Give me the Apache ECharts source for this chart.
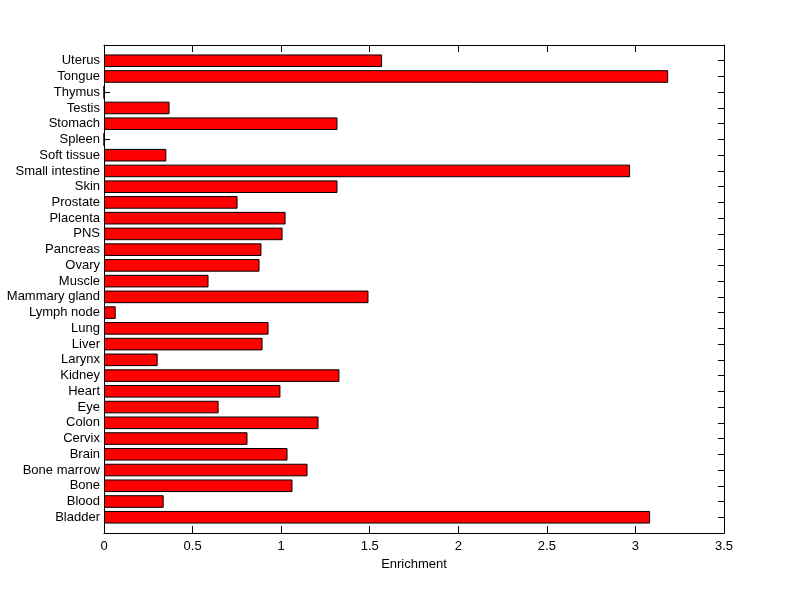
<!DOCTYPE html>
<html>
<head>
<meta charset="utf-8">
<script src="https://cdn.jsdelivr.net/npm/echarts@6/dist/echarts.min.js"></script>
<style>html,body{margin:0;padding:0;background:#fff;}#c{width:800px;height:599px;}</style>
</head>
<body>
<div id="c"></div>
<script>
// categories from bottom to top
var categories = ['Bladder','Blood','Bone','Bone marrow','Brain','Cervix','Colon','Eye','Heart','Kidney','Larynx','Liver','Lung','Lymph node','Mammary gland','Muscle','Ovary','Pancreas','PNS','Placenta','Prostate','Skin','Small intestine','Soft tissue','Spleen','Stomach','Testis','Thymus','Tongue','Uterus'];
var enrichment = [3.083,0.337,1.064,1.149,1.036,0.810,1.211,0.647,0.996,1.329,0.303,0.895,0.929,0.066,1.493,0.590,0.878,0.889,1.008,1.025,0.754,1.318,2.970,0.352,0,1.318,0.370,0,3.185,1.570];
var xTicks = [0,0.5,1,1.5,2,2.5,3,3.5];

// pad one empty slot at each end (axis spans 0..n+1)
var cats = [''].concat(categories).concat(['']);
var vals = [null].concat(enrichment).concat([null]);

var font = 'Arial, "Liberation Sans", Helvetica, sans-serif';
var chart = echarts.init(document.getElementById('c'), null, {renderer:'canvas'});
var lineStyle = {color:'#000', width:1};
chart.setOption({
  backgroundColor:'#fff',
  animation:false,
  grid:{left:104, right:76, top:45, bottom:66, containLabel:false},
  xAxis:[{
    type:'value', min:xTicks[0], max:xTicks[xTicks.length-1], interval:0.5, position:'bottom',
    name:'Enrichment', nameLocation:'middle', nameGap:22,
    nameTextStyle:{color:'#000', fontSize:13, fontFamily:font},
    axisLine:{show:true, onZero:false, lineStyle:lineStyle},
    axisTick:{show:true, inside:true, length:7, lineStyle:lineStyle},
    axisLabel:{color:'#000', fontSize:13, fontFamily:font, margin:7},
    splitLine:{show:false}
  },{
    type:'value', min:xTicks[0], max:xTicks[xTicks.length-1], interval:0.5, position:'top',
    axisLine:{show:true, onZero:false, lineStyle:lineStyle},
    axisTick:{show:true, inside:true, length:7, lineStyle:lineStyle},
    axisLabel:{show:false}, splitLine:{show:false}
  }],
  yAxis:[{
    type:'category', data:cats, boundaryGap:false, position:'left',
    axisLine:{show:true, onZero:false, lineStyle:lineStyle},
    axisTick:{show:true, inside:true, length:6, lineStyle:lineStyle, interval:0},
    axisLabel:{color:'#000', fontSize:13, fontFamily:font, margin:4, interval:0},
    splitLine:{show:false}
  },{
    type:'category', data:cats, boundaryGap:false, position:'right',
    axisLine:{show:true, onZero:false, lineStyle:lineStyle},
    axisTick:{show:true, inside:true, length:6, lineStyle:lineStyle, interval:0},
    axisLabel:{show:false}, splitLine:{show:false}
  }],
  series:[{
    type:'bar', xAxisIndex:0, yAxisIndex:0, data:vals, barWidth:'80%',
    itemStyle:{color:'#ff0000', borderColor:'#000', borderWidth:1},
    emphasis:{disabled:true}
  }]
});
</script>
</body>
</html>
